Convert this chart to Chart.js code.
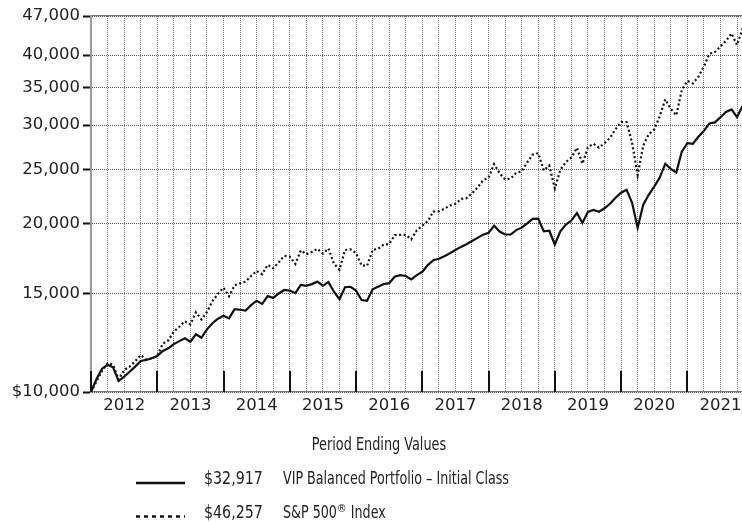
<!DOCTYPE html>
<html>
<head>
<meta charset="utf-8">
<script src="https://cdn.jsdelivr.net/npm/chart.js@4"></script>
<style>
  html, body { margin: 0; padding: 0; background: #fff; overflow: hidden; }
  canvas { display: block; }
</style>
</head>
<body>
<canvas id="chart-growth" width="742" height="523"></canvas>
<script>
const year_labels = ["2012", "2013", "2014", "2015", "2016", "2017", "2018", "2019", "2020", "2021"];
const y_ticks = [10000, 15000, 20000, 25000, 30000, 35000, 40000, 47000];
const series_names = ["VIP Balanced Portfolio – Initial Class", "S&P 500® Index"];

// month-end values, Dec 2011 .. Dec 2021 (121 points)
const vip_values = [
  10000, 10550, 11010, 11190, 11070, 10460, 10650, 10870, 11100, 11360, 11410, 11490, 11600,
  11840, 11970, 12180, 12330, 12470, 12300, 12680, 12500, 12940, 13270, 13520, 13690,
  13540, 14060, 14030, 13980, 14300, 14560, 14370, 14840, 14730, 15000, 15220, 15180,
  15020, 15540, 15480, 15590, 15750, 15490, 15720, 15110, 14650, 15390, 15420, 15180,
  14600, 14560, 15260, 15420, 15590, 15650, 16070, 16180, 16120, 15900, 16180, 16400,
  16860, 17200, 17300, 17480, 17700, 17940, 18170, 18370, 18620, 18860, 19110, 19250,
  19820, 19360, 19120, 19120, 19470, 19670, 20020, 20390, 20420, 19380, 19420, 18350,
  19370, 19920, 20250, 20890, 20050, 20990, 21150, 21000, 21300, 21700, 22240, 22710,
  22990, 21790, 19660, 21590, 22520, 23280, 24170, 25580, 25060, 24680, 26900, 27850,
  27780, 28590, 29300, 30200, 30330, 30980, 31660, 32000, 31010, 32440, 32150, 32917
];
const sp500_values = [
  10000, 10450, 10900, 11260, 11190, 10520, 10950, 11100, 11350, 11640, 11430, 11490, 11600,
  12200, 12370, 12830, 13080, 13380, 13210, 13880, 13480, 13900, 14540, 14980, 15360,
  14830, 15510, 15640, 15750, 16120, 16460, 16230, 16880, 16640, 17050, 17510, 17460,
  16940, 17910, 17630, 17800, 18030, 17680, 18050, 16960, 16540, 17940, 17990, 17710,
  16830, 16810, 17950, 18020, 18340, 18390, 19070, 19100, 19100, 18750, 19450, 19830,
  20210, 21010, 21040, 21250, 21550, 21690, 22130, 22200, 22660, 23190, 23900, 24170,
  25550, 24610, 23980, 24070, 24650, 24810, 25730, 26570, 26720, 24890, 25400, 23110,
  24960, 25760, 26260, 27320, 25590, 27390, 27780, 27340, 27860, 28460, 29490, 30380,
  30370, 27870, 24430, 27560, 28870, 29450, 31110, 33350, 32080, 31230, 34650, 35980,
  35610, 36600, 38200, 40240, 40520, 41460, 42450, 43740, 41710, 44630, 44320, 46257
];

const tick_font = { family: "'DejaVu Sans', Verdana, sans-serif", size: 16.5 };
const legend_family = "'Liberation Sans Narrow', 'DejaVu Sans Condensed', sans-serif";

// the picture is cut at its right edge, a little before Dec 2021
const x_max = 117.9;

// long black marks at each year boundary, standing inside the plot
const year_ticks_plugin = {
  id: "yearTicks",
  beforeDatasetsDraw(chart) {
    const { ctx, chartArea, scales: { x } } = chart;
    ctx.save();
    ctx.strokeStyle = "#111";
    ctx.lineWidth = 2;
    for (let m = 0; m <= x.max; m += 12) {
      const px = Math.round(x.getPixelForValue(m));
      ctx.beginPath();
      ctx.moveTo(px, chartArea.bottom);
      ctx.lineTo(px, chartArea.bottom - 21);
      ctx.stroke();
    }
    ctx.restore();
  }
};

// condensed text, to get nearer the narrow face of the original
function narrowText(ctx, text, x, y, squeeze) {
  ctx.fillText(text, x, y, ctx.measureText(text).width * squeeze);
  return ctx.measureText(text).width * squeeze;
}

// "Period Ending Values" block under the chart
const ending_legend_plugin = {
  id: "endingLegend",
  afterDraw(chart) {
    const ctx = chart.ctx;
    ctx.save();
    ctx.fillStyle = "#222";
    ctx.textBaseline = "alphabetic";
    ctx.font = "17px " + legend_family;
    ctx.textAlign = "left";
    const title = "Period Ending Values";
    const tw = ctx.measureText(title).width * 0.84;
    narrowText(ctx, title, 379 - tw / 2, 450, 0.84);
    chart.data.datasets.forEach((ds, i) => {
      const base = 484 + i * 33.5;
      ctx.strokeStyle = ds.borderColor;
      ctx.lineWidth = 2.5;
      ctx.setLineDash(ds.borderDash ? [4, 4] : []);
      ctx.beginPath();
      ctx.moveTo(136, base - 1);
      ctx.lineTo(185, base - 1);
      ctx.stroke();
      ctx.setLineDash([]);

      const last = ds.data[ds.data.length - 1].y;
      ctx.font = "17px " + legend_family;
      narrowText(ctx, "$" + last.toLocaleString("en-US"), 204, base, 0.93);

      const parts = ds.label.split("®");
      let tx = 283;
      tx += narrowText(ctx, parts[0], tx, base, 0.83);
      if (parts.length > 1) {
        ctx.font = "11px " + legend_family;
        tx += narrowText(ctx, "®", tx, base - 6, 1);
        ctx.font = "17px " + legend_family;
        narrowText(ctx, parts[1], tx, base, 0.83);
      }
    });
    ctx.restore();
  }
};

new Chart(document.getElementById("chart-growth"), {
  type: "line",
  data: {
    datasets: [{
      label: series_names[0],
      data: vip_values.map((v, i) => ({ x: i, y: v })),
      borderColor: "#111",
      borderWidth: 2.2,
      pointRadius: 0,
      tension: 0,
      fill: false
    },
    {
      label: series_names[1],
      data: sp500_values.map((v, i) => ({ x: i, y: v })),
      borderColor: "#111",
      borderWidth: 2.2,
      borderDash: [2, 2.5],
      pointRadius: 0,
      tension: 0,
      fill: false
    }]
  },
  options: {
    responsive: false,
    animation: false,
    layout: { padding: { top: 16, left: 0, right: 0, bottom: 0 } },
    plugins: {
      legend: { display: false },
      tooltip: { enabled: false }
    },
    scales: {
      x: {
        type: "linear",
        min: 0,
        max: x_max,
        afterBuildTicks: (scale) => {
          const t = [];
          for (let m = 0; m < scale.max; m += 3) t.push({ value: m });
          scale.ticks = t;
        },
        afterFit: (scale) => { scale.height = 131; },
        ticks: {
          font: tick_font,
          color: "#222",
          padding: 4,
          autoSkip: false,
          maxRotation: 0,
          callback: (v) => (v % 12 === 6 ? year_labels[(v - 6) / 12] : "")
        },
        grid: { color: "#7a7a7a", lineWidth: 1, drawTicks: false },
        border: { color: "#777", width: 1.3, dash: [1, 1] }
      },
      x2: {
        type: "linear",
        position: "top",
        min: 0,
        max: x_max,
        ticks: { display: false },
        grid: { display: false, drawTicks: false },
        border: { color: "#777", width: 1.3 },
        afterFit: (scale) => { scale.height = 0; }
      },
      y: {
        type: "logarithmic",
        min: 10000,
        max: 47000,
        afterBuildTicks: (scale) => { scale.ticks = y_ticks.map((v) => ({ value: v })); },
        afterFit: (scale) => { scale.width = 91; },
        ticks: {
          font: tick_font,
          color: "#222",
          padding: 3,
          callback: (v) => (v === 10000 ? "$" : "") + v.toLocaleString("en-US")
        },
        grid: { color: "#555", lineWidth: 1, tickColor: "#111", tickWidth: 2, tickLength: 8 },
        border: { color: "#999", width: 2, dash: [1, 1] }
      }
    }
  },
  plugins: [year_ticks_plugin, ending_legend_plugin]
});
</script>
</body>
</html>
